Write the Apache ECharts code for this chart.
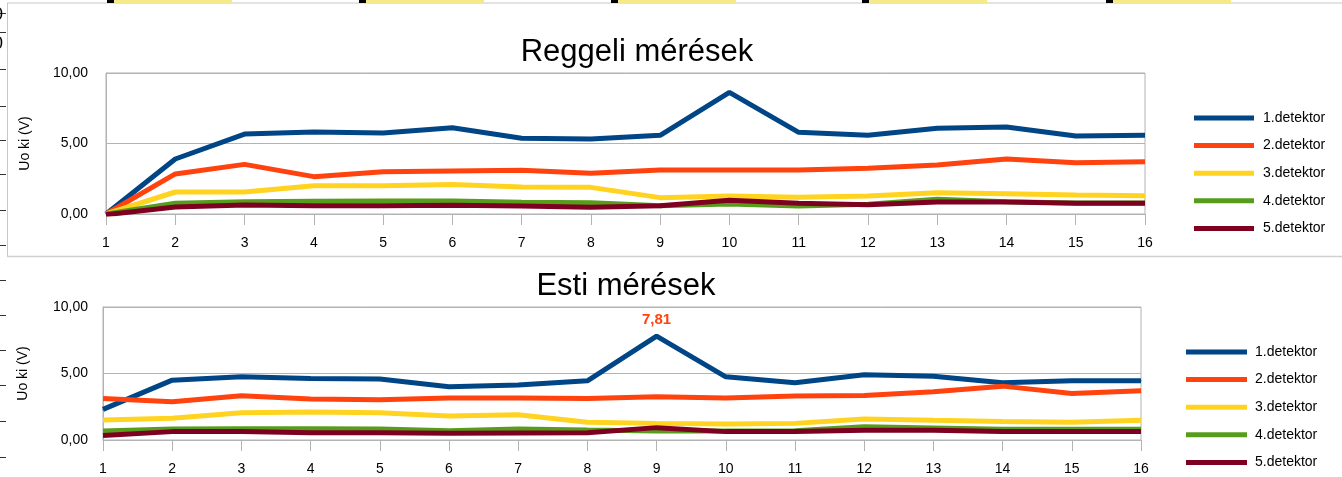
<!DOCTYPE html>
<html>
<head>
<meta charset="utf-8">
<script src="https://cdn.jsdelivr.net/npm/echarts@6/dist/echarts.min.js"></script>
<style>
html,body{margin:0;padding:0;background:#fff;}
#chart{width:1342px;height:477px;}
</style>
</head>
<body>
<div id="chart"></div>
<script>
const categories = ['1','2','3','4','5','6','7','8','9','10','11','12','13','14','15','16'];
const seriesNames = ['1.detektor','2.detektor','3.detektor','4.detektor','5.detektor'];
const colors = ['#004586','#ff420e','#ffd320','#579d1c','#7e0021'];
const yTicks = [0, 5, 10];

// Reggeli mérések
const morning1 = [0, 3.90, 5.67, 5.82, 5.75, 6.12, 5.37, 5.32, 5.58, 8.63, 5.79, 5.58, 6.08, 6.17, 5.53, 5.58];
const morning2 = [0, 2.84, 3.52, 2.65, 3.00, 3.05, 3.10, 2.89, 3.12, 3.12, 3.12, 3.24, 3.48, 3.90, 3.64, 3.71];
const morning3 = [0, 1.56, 1.56, 2.00, 2.00, 2.10, 1.91, 1.89, 1.16, 1.28, 1.18, 1.28, 1.51, 1.44, 1.35, 1.30];
const morning4 = [0, 0.76, 0.87, 0.90, 0.92, 0.92, 0.83, 0.80, 0.59, 0.71, 0.57, 0.70, 1.04, 0.87, 0.78, 0.78];
const morning5 = [-0.05, 0.50, 0.64, 0.59, 0.59, 0.62, 0.57, 0.47, 0.59, 0.97, 0.76, 0.66, 0.85, 0.85, 0.76, 0.76];

// Esti mérések
const evening1 = [2.30, 4.50, 4.75, 4.63, 4.58, 4.00, 4.13, 4.45, 7.81, 4.75, 4.30, 4.90, 4.80, 4.30, 4.45, 4.45];
const evening2 = [3.12, 2.87, 3.33, 3.08, 3.03, 3.15, 3.15, 3.12, 3.25, 3.15, 3.30, 3.35, 3.63, 4.05, 3.50, 3.70];
const evening3 = [1.50, 1.63, 2.05, 2.10, 2.05, 1.80, 1.90, 1.33, 1.25, 1.20, 1.25, 1.58, 1.48, 1.40, 1.33, 1.48];
const evening4 = [0.68, 0.83, 0.85, 0.85, 0.83, 0.70, 0.83, 0.75, 0.68, 0.68, 0.70, 1.00, 0.90, 0.80, 0.80, 0.80];
const evening5 = [0.33, 0.63, 0.63, 0.55, 0.55, 0.50, 0.53, 0.55, 0.93, 0.63, 0.63, 0.73, 0.73, 0.63, 0.63, 0.63];

const labeledPoint = { seriesIndex: 0, dataIndex: 8 }; // 7,81 label in evening chart

const morning = [morning1, morning2, morning3, morning4, morning5];
const evening = [evening1, evening2, evening3, evening4, evening5];

const FONT = 'Liberation Sans';
const gridColor = '#b3b3b3';
const fmt = v => v.toFixed(2).replace('.', ',');

function xAxis(gridIndex) {
  return {
    type: 'category', gridIndex, data: categories, boundaryGap: false,
    axisLine: { show: true, lineStyle: { color: gridColor, width: 1 } },
    axisTick: { show: true, length: 11, lineStyle: { color: gridColor } },
    axisLabel: { color: '#000', fontFamily: FONT, fontSize: 14, margin: 22 },
    splitLine: { show: false }
  };
}
function yAxis(gridIndex, gap, margin) {
  return {
    type: 'value', gridIndex, min: yTicks[0], max: yTicks[yTicks.length - 1], interval: 5,
    name: 'Uo ki (V)', nameLocation: 'middle', nameRotate: 90, nameGap: gap,
    nameTextStyle: { color: '#000', fontFamily: FONT, fontSize: 14 },
    axisLine: { show: true, lineStyle: { color: gridColor } },
    axisTick: { show: false },
    axisLabel: { color: '#000', fontFamily: FONT, fontSize: 14, margin: margin, formatter: fmt },
    splitLine: { show: true, lineStyle: { color: gridColor, width: 1 } }
  };
}

const series = [];
morning.forEach((d, i) => series.push({
  name: seriesNames[i], type: 'line', xAxisIndex: 0, yAxisIndex: 0, data: d,
  symbol: 'none', lineStyle: { width: 5, color: colors[i] }, itemStyle: { color: colors[i] }
}));
evening.forEach((d, i) => {
  const hasLabel = i === labeledPoint.seriesIndex;
  series.push({
    name: seriesNames[i], type: 'line', xAxisIndex: 1, yAxisIndex: 1,
    data: d.map((v, j) => (hasLabel && j === labeledPoint.dataIndex) ? {
      value: v,
      label: { show: true, position: 'top', distance: 8, formatter: p => fmt(p.value),
        color: '#ff420e', fontWeight: 'bold', fontFamily: FONT, fontSize: 15 }
    } : v),
    symbol: hasLabel ? 'circle' : 'none', symbolSize: 1, showSymbol: hasLabel,
    lineStyle: { width: 5, color: colors[i] }, itemStyle: { color: colors[i] }
  });
});

// spreadsheet background
const graphic = [];
graphic.push({ type: 'line', shape: { x1: 7, y1: 3, x2: 1342, y2: 3 }, style: { stroke: '#c8c8c8', lineWidth: 1 } });
graphic.push({ type: 'line', shape: { x1: 7.5, y1: 3, x2: 7.5, y2: 257 }, style: { stroke: '#c8c8c8', lineWidth: 1 } });
graphic.push({ type: 'line', shape: { x1: 7, y1: 256.5, x2: 1342, y2: 256.5 }, style: { stroke: '#d0d0d0', lineWidth: 1.5 } });
[107, 359, 611, 862, 1106].forEach(x => {
  graphic.push({ type: 'rect', shape: { x: x, y: 0, width: 7, height: 3 }, style: { fill: '#000' } });
  graphic.push({ type: 'rect', shape: { x: x + 7, y: 0, width: 118, height: 3 }, style: { fill: '#f5ea8a' } });
});
[13, 32, 69, 106, 140, 174, 210, 245, 280, 315, 350, 385, 421, 457].forEach(y => {
  graphic.push({ type: 'line', shape: { x1: 0, y1: y + 0.5, x2: 6, y2: y + 0.5 }, style: { stroke: '#333', lineWidth: 1 } });
});
graphic.push({ type: 'text', left: -7, top: 6, style: { text: '0', font: '18px ' + FONT, fill: '#000' } });
graphic.push({ type: 'text', left: -7, top: 35, style: { text: '0', font: '18px ' + FONT, fill: '#000' } });

const option = {
  animation: false,
  backgroundColor: '#fff',
  color: colors,
  textStyle: { fontFamily: FONT },
  title: [
    { text: 'Reggeli mérések', left: 632, top: 32, textAlign: 'center',
      textStyle: { fontFamily: FONT, fontSize: 31, fontWeight: 'normal', color: '#000' } },
    { text: 'Esti mérések', left: 621, top: 266, textAlign: 'center',
      textStyle: { fontFamily: FONT, fontSize: 31, fontWeight: 'normal', color: '#000' } }
  ],
  legend: [
    { data: seriesNames, orient: 'vertical', left: 1189, top: 106, itemWidth: 60, itemHeight: 5,
      itemGap: 13.6, icon: 'rect', textStyle: { fontFamily: FONT, fontSize: 14, color: '#000', padding: [0, 0, 0, 4] },
      itemStyle: { borderWidth: 0 }, selectedMode: false },
    { data: seriesNames, orient: 'vertical', left: 1181, top: 340, itemWidth: 61, itemHeight: 5,
      itemGap: 13.6, icon: 'rect', textStyle: { fontFamily: FONT, fontSize: 14, color: '#000', padding: [0, 0, 0, 3] },
      itemStyle: { borderWidth: 0 }, selectedMode: false }
  ],
  grid: [
    { left: 106, top: 73, width: 1039, height: 141, show: true, borderColor: gridColor, borderWidth: 1, containLabel: false },
    { left: 103, top: 307, width: 1038, height: 133, show: true, borderColor: gridColor, borderWidth: 1, containLabel: false }
  ],
  xAxis: [xAxis(0), xAxis(1)],
  yAxis: [yAxis(0, 74, 18), yAxis(1, 73, 15)],
  series,
  graphic
};

const chart = echarts.init(document.getElementById('chart'), null, { renderer: 'canvas' });
chart.setOption(option);
</script>
</body>
</html>
